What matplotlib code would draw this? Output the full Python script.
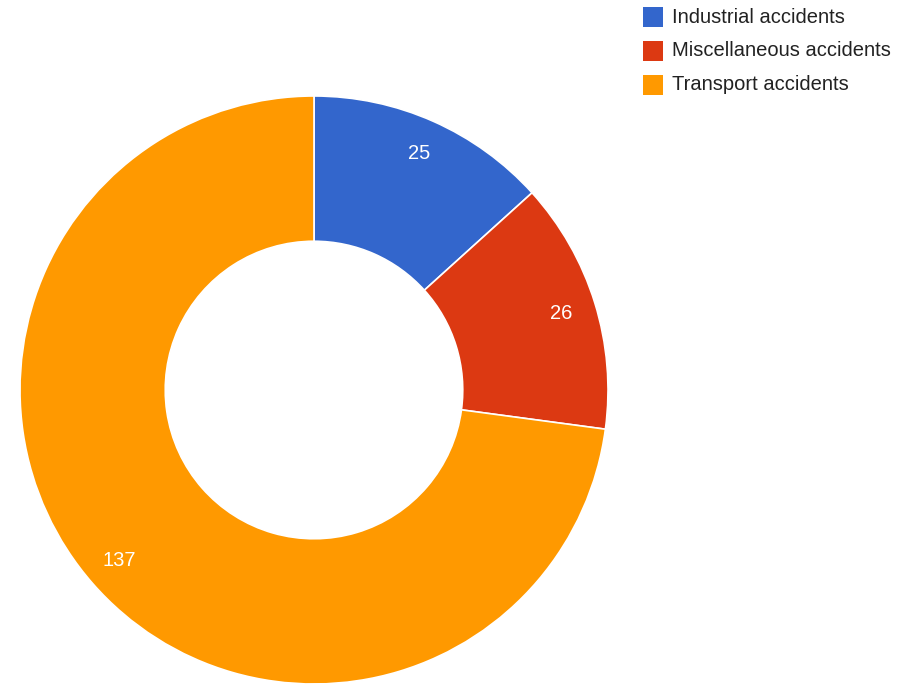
import matplotlib
matplotlib.use("Agg")
import matplotlib.pyplot as plt
from matplotlib.patches import Rectangle

categories = ["Industrial accidents", "Miscellaneous accidents", "Transport accidents"]
values = [25, 26, 137]
colors = ["#3366cc", "#dc3912", "#ff9900"]

W, H = 906, 685
fig = plt.figure(figsize=(W / 100, H / 100), dpi=100)
fig.patch.set_facecolor("white")

cx, cy, R = 314, 390, 294
ax = fig.add_axes([(cx - R) / W, (H - cy - R) / H, 2 * R / W, 2 * R / H])
wedges, texts = ax.pie(values, colors=colors, startangle=90, counterclock=False,
                       radius=1, labels=[str(v) for v in values], labeldistance=0.88,
                       wedgeprops=dict(width=0.494, edgecolor="white", linewidth=1.2),
                       textprops=dict(color="white", fontsize=14.5, family="Liberation Sans",
                                      ha="center", va="center"))
for t in texts:
    t.set_ha("center")
ax.set_xlim(-1, 1)
ax.set_ylim(-1, 1)
ax.set_aspect("equal")
ax.axis("off")

# legend
lax = fig.add_axes([0, 0, 1, 1])
lax.set_xlim(0, W)
lax.set_ylim(H, 0)
lax.axis("off")
row_y = [17, 50.5, 84.5]
for c, lab, y in zip(colors, categories, row_y):
    lax.add_patch(Rectangle((643, y - 10), 20, 20, facecolor=c, edgecolor="none"))
    lax.text(672, y, lab, fontsize=14.5, family="Liberation Sans", color="#222222",
             ha="left", va="center")

fig.savefig("out.png", dpi=100)
